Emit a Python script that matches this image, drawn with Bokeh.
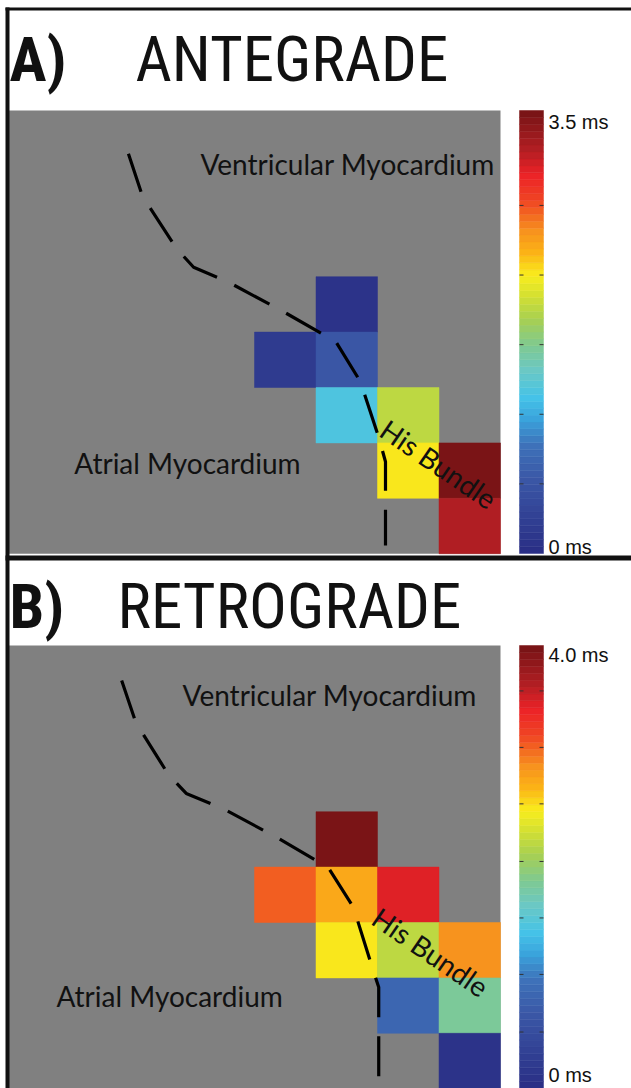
import numpy as np
from bokeh.plotting import figure
from bokeh.models import Range1d, LinearColorMapper, ColumnDataSource
from bokeh.transform import transform
from bokeh.core.properties import value
from bokeh.embed import file_html
from bokeh.resources import INLINE

# ---------------- data ----------------
# Panel A (antegrade): electrode grid column / row (row 0 = top) and delay in ms
ante_col = [5, 4, 5, 5, 6, 6, 7, 7]
ante_row = [3, 4, 4, 5, 5, 6, 6, 7]
ante_ms = [0.08, 0.18, 0.60, 1.30, 1.93, 2.22, 3.50, 3.20]
ante_max = 3.5
ante_ticks = [0.55, 1.10, 1.65, 2.20, 2.75]
ante_labels = ["3.5 ms", "0 ms"]

# Panel B (retrograde)
retro_col = [5, 4, 5, 6, 5, 6, 7, 6, 7, 7]
retro_row = [3, 4, 4, 4, 5, 5, 5, 6, 6, 7]
retro_ms = [3.98, 3.10, 2.80, 3.45, 2.50, 2.20, 2.90, 0.85, 1.85, 0.10]
retro_max = 4.0
retro_ticks = [0.51, 1.03, 1.54, 2.05, 2.57, 3.08, 3.59]
retro_labels = ["4.0 ms", "0 ms"]

# His bundle boundary (grid units)
ante_path_col = [1.95, 2.18, 2.73, 3.01, 3.58, 4.50, 5.32, 5.72, 6.02, 6.13, 6.13]
ante_path_row = [0.78, 1.55, 2.49, 2.83, 3.10, 3.65, 4.17, 4.89, 5.90, 6.34, 7.85]
retro_path_col = [1.84, 2.07, 2.60, 2.89, 3.48, 4.39, 5.20, 5.61, 5.90, 6.02, 6.02]
retro_path_row = [0.63, 1.39, 2.33, 2.67, 2.94, 3.48, 4.01, 4.73, 5.76, 6.17, 7.94]

titles = ["A)", "B)"]
subtitles = ["ANTEGRADE", "RETROGRADE"]
region_labels = ["Ventricular Myocardium", "Atrial Myocardium", "His Bundle"]

# jet-like colormap as printed (anchor fraction, colour)
cmap_anchors = [(0.00, "#2a2f86"), (0.16, "#3a56a5"), (0.24, "#3e72b9"), (0.30, "#3aa3dc"),
                (0.35, "#45c3e8"), (0.41, "#6ac8c6"), (0.47, "#80c990"), (0.53, "#a8d050"),
                (0.59, "#d9e22f"), (0.63, "#f9ed1d"), (0.68, "#fbb416"), (0.73, "#f7931e"),
                (0.80, "#ef4623"), (0.86, "#ec2227"), (0.92, "#b01e23"), (1.00, "#7a1416")]


def make_palette(n=64):
    fr = np.array([a for a, _ in cmap_anchors])
    rgb = np.array([[int(c[i:i + 2], 16) for i in (1, 3, 5)] for _, c in cmap_anchors], float)
    out = []
    for t in np.linspace(0, 1, n):
        r, g, b = (np.interp(t, fr, rgb[:, k]) for k in range(3))
        out.append("#%02x%02x%02x" % (int(round(r)), int(round(g)), int(round(b))))
    return out


palette = make_palette(64)

# ---------------- layout (pixels) ----------------
W, H = 631, 1088
GX0, CW = 8.0, 61.5          # grid left edge, column width
A_TOP, B_TOP, RH = 110.0, 645.0, 55.4
CB_X0, CB_X1 = 519, 543
A_CB0, A_CB1 = 553.0, 110.0  # pixel of 0 and of max
B_CB0, B_CB1 = 1088.0, 645.0


def rows_range(top_px):
    # row index increases downward
    return Range1d(start=(H - top_px) / RH, end=-top_px / RH)


def value_range(p0, p1, vmax):
    s = (p0 - p1) / vmax
    return Range1d(start=(p0 - H) / s, end=p0 / s)


p = figure(width=W, height=H, x_range=Range1d(-GX0 / CW, (W - GX0) / CW),
           y_range=rows_range(A_TOP), min_border=0,
           x_axis_location=None, y_axis_location=None,
           toolbar_location=None, output_backend="svg")
p.outline_line_color = None
p.grid.visible = False
p.background_fill_color = "white"
p.border_fill_color = "white"
p.extra_y_ranges = {"B": rows_range(B_TOP),
                    "cbA": value_range(A_CB0, A_CB1, ante_max),
                    "cbB": value_range(B_CB0, B_CB1, retro_max),
                    "py": Range1d(start=H, end=0)}
p.extra_x_ranges = {"px": Range1d(0, W)}

label_font = value("Lato")
title_font = value("Roboto Condensed, Liberation Sans")

panels = [
    dict(yr="default", cb="cbA", col=ante_col, row=ante_row, ms=ante_ms, vmax=ante_max,
         ticks=ante_ticks, labels=ante_labels, pc=ante_path_col, pr=ante_path_row,
         title=titles[0], sub=subtitles[0], title_y=59, sub_x=135, lab_y=(121, 546),
         vent=(3.12, 0.96), atr=(1.07, 6.37), his=(6.10, 5.70)),
    dict(yr="B", cb="cbB", col=retro_col, row=retro_row, ms=retro_ms, vmax=retro_max,
         ticks=retro_ticks, labels=retro_labels, pc=retro_path_col, pr=retro_path_row,
         title=titles[1], sub=subtitles[1], title_y=606, sub_x=117, lab_y=(654, 1074),
         vent=(2.83, 0.90), atr=(0.78, 6.32), his=(5.97, 4.85)),
]

for P in panels:
    yr = P["yr"]
    mapper = LinearColorMapper(palette=palette, low=0, high=P["vmax"])
    # gray tissue background (8x8 grid)
    p.quad(left=[0], right=[8], top=[0], bottom=[8], y_range_name=yr,
           fill_color="#808080", line_color=None)
    # electrode cells
    src = ColumnDataSource(dict(l=P["col"], r=[c + 1 for c in P["col"]],
                                t=P["row"], b=[r + 1 for r in P["row"]], v=P["ms"]))
    p.quad(left="l", right="r", top="t", bottom="b", source=src, y_range_name=yr,
           fill_color=transform("v", mapper), line_color=transform("v", mapper), line_width=0.5)
    # boundary
    p.line(P["pc"], P["pr"], y_range_name=yr, line_color="black", line_width=3.2,
           line_dash="40 19")
    # region labels
    p.text(x=[P["vent"][0], P["atr"][0]], y=[P["vent"][1], P["atr"][1]],
           text=region_labels[:2], y_range_name=yr, text_font=label_font,
           text_font_size="28px", text_align="left", text_baseline="middle",
           text_color="#111111")
    p.text(x=[P["his"][0]], y=[P["his"][1]], text=[region_labels[2]], y_range_name=yr,
           angle=-0.60, text_font=label_font, text_font_size="28px", text_align="left",
           text_baseline="middle", text_color="#111111")
    # colour bar
    edges = np.linspace(0, P["vmax"], len(palette) + 1)
    cbs = ColumnDataSource(dict(b=edges[:-1], t=edges[1:], v=(edges[:-1] + edges[1:]) / 2))
    p.quad(left=CB_X0, right=CB_X1, bottom="b", top="t", source=cbs, x_range_name="px",
           y_range_name=P["cb"], fill_color=transform("v", mapper),
           line_color=transform("v", mapper), line_width=0.5)
    n = len(P["ticks"])
    p.segment(x0=[CB_X0] * n, x1=[CB_X0 + 4] * n, y0=P["ticks"], y1=P["ticks"],
              x_range_name="px", y_range_name=P["cb"], line_color="#333333", line_width=1)
    p.segment(x0=[CB_X1 - 4] * n, x1=[CB_X1] * n, y0=P["ticks"], y1=P["ticks"],
              x_range_name="px", y_range_name=P["cb"], line_color="#333333", line_width=1)
    p.text(x=[548, 548], y=list(P["lab_y"]), text=P["labels"], x_range_name="px",
           y_range_name="py", text_font=value("Liberation Sans"), text_font_size="20px",
           text_align="left", text_baseline="middle", text_color="#111111")
    # titles
    p.text(x=[9], y=[P["title_y"]], text=[P["title"]], x_range_name="px", y_range_name="py",
           text_font=title_font, text_font_style="bold", text_font_size="62px",
           text_align="left", text_baseline="alphabetic", text_color="#111111")
    p.text(x=[P["sub_x"]], y=[P["title_y"]], text=[P["sub"]], x_range_name="px",
           y_range_name="py", text_font=title_font, text_font_size="63px",
           text_align="left", text_baseline="alphabetic", text_color="#111111")

# figure frame lines
p.quad(left=[5, 5, 5], right=[W, 9, W], top=[7, 7, 555], bottom=[10, H, 560],
       x_range_name="px", y_range_name="py", fill_color="#111111", line_color=None)

open("out.html", "w").write(file_html(p, INLINE))
